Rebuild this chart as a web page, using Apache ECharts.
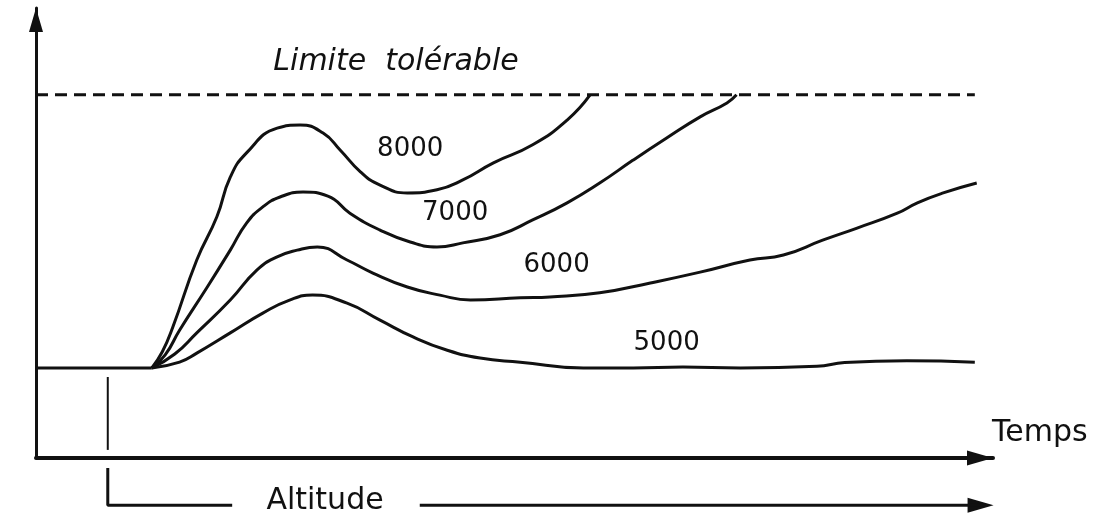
<!DOCTYPE html>
<html>
<head>
<meta charset="utf-8">
<script src="https://cdn.jsdelivr.net/npm/echarts@6/dist/echarts.min.js"></script>
<style>
  html, body { margin: 0; background: #fff; }
  #chart { width: 1119px; height: 515px; }
</style>
</head>
<body>
<div id="chart"></div>
<script>
// Arbitrary units: time 0..100, physiological load 0..100
const BASE_LEVEL = 20;
const LIMIT_LEVEL = 80.7;
const START_TIME = 12.1;
const ALTITUDE_MARK = 7.5;

const baseline = [[0, BASE_LEVEL], [START_TIME, BASE_LEVEL]];
const limitLine = [[0, LIMIT_LEVEL], [98.1, LIMIT_LEVEL]];

const curve8000 = [
  [12.1, 20.0], [13.2, 23.6], [14.3, 29.1], [16.8, 44.0], [18.9, 53.6], [20.3, 62.4],
  [22.0, 67.8], [25.2, 73.3], [27.6, 74.0], [30.0, 72.2], [31.8, 68.4],
  [33.9, 63.6], [35.9, 60.7], [38.8, 58.9], [41.9, 59.6], [44.6, 61.8], [47.8, 65.6],
  [51.9, 69.6], [55.5, 75.1], [57.9, 80.7]
];
const curve7000 = [
  [12.1, 20.0], [13.5, 22.9], [15.0, 28.4], [17.9, 38.0], [20.3, 46.2], [22.0, 52.2],
  [23.7, 55.8], [25.5, 58.0], [27.9, 59.1], [30.5, 58.2], [32.8, 54.4], [35.9, 50.7],
  [39.1, 48.0], [41.9, 46.9], [44.6, 47.8], [48.5, 49.6], [51.9, 52.9], [55.5, 56.7],
  [58.9, 61.1], [62.4, 66.2], [65.9, 71.1], [69.4, 75.8], [72.2, 78.9], [73.2, 80.7]
];
const curve6000 = [
  [12.1, 20.0], [14.5, 23.1], [16.8, 27.8], [20.3, 35.1], [23.1, 41.8], [25.2, 44.7],
  [27.3, 46.2], [29.4, 46.9], [32.5, 44.0], [35.2, 41.1], [38.8, 38.0],
  [42.2, 36.2], [45.4, 35.1], [50.6, 35.6], [53.7, 35.8], [58.9, 36.7], [64.2, 38.9],
  [69.4, 41.3], [74.6, 44.0], [78.1, 45.1], [82.2, 48.4], [85.8, 51.1], [90.0, 54.4],
  [92.1, 56.7], [94.8, 58.9], [98.3, 61.1]
];
const curve5000 = [
  [12.1, 20.0], [15.0, 21.3], [16.8, 23.3], [20.3, 27.8], [23.7, 32.2], [26.5, 35.1],
  [28.9, 36.2], [32.5, 34.4], [35.9, 30.7], [39.4, 26.9], [42.9, 24.0],
  [46.4, 22.2], [50.6, 21.3], [57.2, 20.0], [62.4, 20.0], [67.6, 20.2], [73.6, 20.0],
  [81.6, 20.4], [84.5, 21.2], [91.0, 21.6], [98.1, 21.3]
];

const curveNames = ['8000', '7000', '6000', '5000'];
const curves = [curve8000, curve7000, curve6000, curve5000];

const INK = '#111';
const FONT = '"DejaVu Sans", sans-serif';

// label anchors (data units)
const curveLabelAt = [[39.1, 68.7], [43.8, 54.4], [54.4, 42.8], [65.9, 25.4]];

const textItems = [
  { value: [24.8, 88.0], label: { formatter: 'Limite  tolérable', fontStyle: 'italic', fontSize: 30, align: 'left' } },
  { value: [99.9, 5.6], label: { formatter: 'Temps', fontSize: 30, align: 'left' } },
  { value: [30.2, -9.6], label: { formatter: 'Altitude', fontSize: 30, align: 'center' } }
].concat(curveNames.map((name, i) => ({
  value: curveLabelAt[i],
  label: { formatter: name, fontSize: 26, align: 'center' }
})));

function plainLine(name, data, width, extra) {
  return Object.assign({
    name,
    type: 'line',
    data,
    symbol: 'none',
    silent: true,
    clip: false,
    lineStyle: { color: INK, width: width }
  }, extra || {});
}

const chart = echarts.init(document.getElementById('chart'));

chart.setOption({
  animation: false,
  backgroundColor: '#fff',
  grid: { left: 36, top: 8, right: 126, bottom: 57, outerBoundsMode: 'none' },
  xAxis: {
    type: 'value',
    min: 0,
    max: 100,
    axisLine: {
      show: true,
      symbol: ['none', 'triangle'],
      symbolSize: [15, 26],
      symbolOffset: [0, -13],
      lineStyle: { color: INK, width: 4 }
    },
    axisTick: { show: false },
    axisLabel: { show: false },
    splitLine: { show: false }
  },
  yAxis: {
    type: 'value',
    min: 0,
    max: 100,
    axisLine: {
      show: true,
      symbol: ['none', 'triangle'],
      symbolSize: [14, 24],
      symbolOffset: [0, -12],
      lineStyle: { color: INK, width: 3 }
    },
    axisTick: { show: false },
    axisLabel: { show: false },
    splitLine: { show: false }
  },
  series: [
    plainLine('base', baseline, 3),
    plainLine('Limite tolérable', limitLine, 3, {
      lineStyle: { color: INK, width: 3, type: [12, 7] }
    })
  ].concat(curves.map((c, i) => plainLine(curveNames[i], c, 3, { smooth: 0.5 })))
   .concat([
    plainLine('altitude-tick', [[ALTITUDE_MARK, 18.0], [ALTITUDE_MARK, 1.8]], 2),
    plainLine('altitude-bracket', [[ALTITUDE_MARK, -2.2], [ALTITUDE_MARK, -10.5], [20.5, -10.5]], 3),
    plainLine('altitude-arrow', [[40.1, -10.5], [99.0, -10.5]], 3),
    {
      name: 'altitude-head',
      type: 'scatter',
      silent: true,
      clip: false,
      data: [[98.7, -10.5]],
      symbol: 'triangle',
      symbolRotate: -90,
      symbolSize: [15, 26],
      itemStyle: { color: INK, opacity: 1 }
    },
    {
      name: 'texts',
      type: 'scatter',
      silent: true,
      clip: false,
      symbolSize: 0,
      data: textItems,
      itemStyle: { opacity: 1 },
      label: {
        show: true,
        position: 'inside',
        color: INK,
        fontFamily: FONT,
        verticalAlign: 'middle'
      }
    }
  ])
});
</script>
</body>
</html>
